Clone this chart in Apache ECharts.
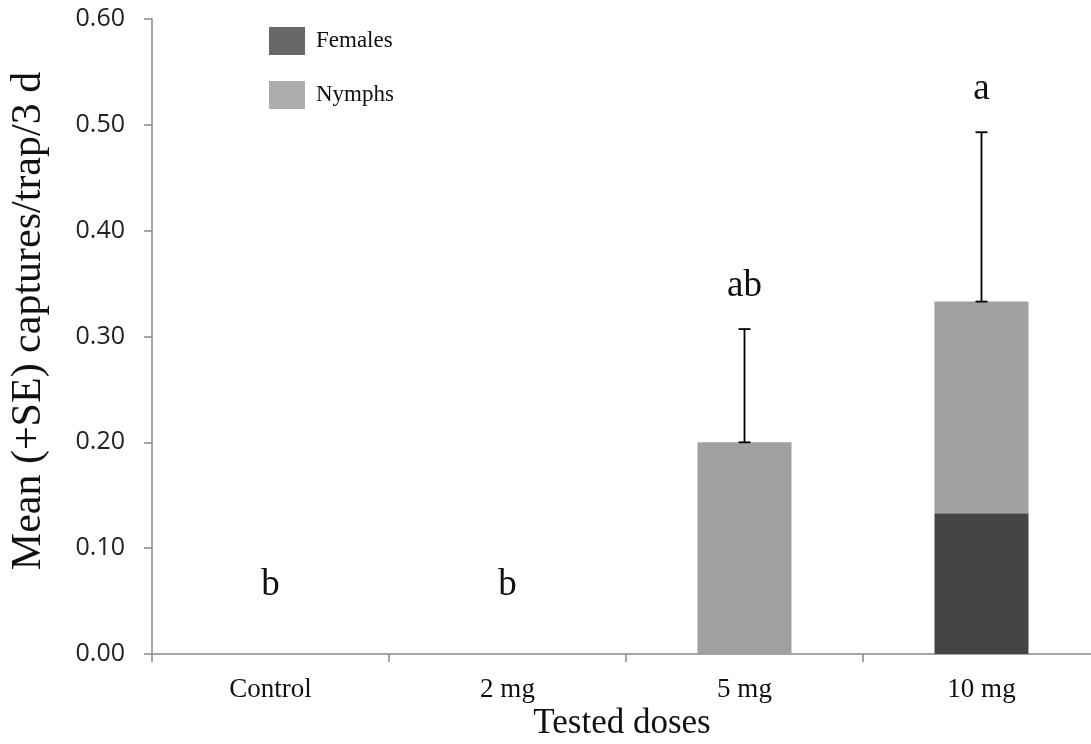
<!DOCTYPE html>
<html>
<head>
<meta charset="utf-8">
<title>Captures per trap by tested dose</title>
<script src="https://cdn.jsdelivr.net/npm/echarts@6/dist/echarts.min.js"></script>
<style>
  html, body { margin: 0; padding: 0; background: #fff; }
  #chart { width: 1091px; height: 744px; }
</style>
</head>
<body>
<div id="chart"></div>
<script>
// Doses tested and mean captures per trap over 3 days
const categories = ['Control', '2 mg', '5 mg', '10 mg'];
const females = [0, 0, 0, 0.133];
const nymphs = [0, 0, 0.2, 0.2];
const se = [0, 0, 0.107, 0.16];
const letters = ['b', 'b', 'ab', 'a'];
const yTicks = [0, 0.1, 0.2, 0.3, 0.4, 0.5, 0.6];

const serif = '"Liberation Serif", "Times New Roman", serif';
const totals = categories.map((c, i) => females[i] + nymphs[i]);

const chart = echarts.init(document.getElementById('chart'), null, { renderer: 'canvas' });

const option = {
  animation: false,
  backgroundColor: '#ffffff',
  // the category axis runs a little past the right edge of the canvas
  grid: {
    left: 152, top: 19, width: 948, height: 635,
    containLabel: false,
    outerBoundsMode: 'none'
  },
  legend: {
    orient: 'vertical',
    left: 264,
    top: 22,
    itemWidth: 36,
    itemHeight: 28,
    itemGap: 26,
    icon: 'rect',
    textStyle: { fontFamily: serif, fontSize: 23, color: '#111', padding: [0, 0, 0, 6] },
    data: [
      { name: 'Females', itemStyle: { color: '#686868' } },
      { name: 'Nymphs', itemStyle: { color: '#acacac' } }
    ]
  },
  xAxis: {
    type: 'category',
    data: categories,
    boundaryGap: true,
    axisLine: { show: true, lineStyle: { color: '#888', width: 1.5 } },
    axisTick: { show: true, length: 8, lineStyle: { color: '#888', width: 1.5 } },
    axisLabel: { fontFamily: serif, fontSize: 27, color: '#111', margin: 22 },
    splitLine: { show: false }
  },
  yAxis: {
    type: 'value',
    min: yTicks[0],
    max: yTicks[yTicks.length - 1],
    interval: 0.1,
    axisLine: { show: true, lineStyle: { color: '#888', width: 1.5 } },
    axisTick: { show: true, length: 8, lineStyle: { color: '#888', width: 1.5 } },
    axisLabel: {
      fontFamily: '"Open Sans", "Noto Sans", sans-serif',
      fontSize: 25,
      color: '#222',
      margin: 27,
      formatter: v => v.toFixed(2)
    },
    splitLine: { show: false }
  },
  graphic: [
    {
      type: 'text',
      x: 29,
      y: 321,
      rotation: Math.PI / 2,
      style: {
        text: 'Mean (+SE) captures/trap/3 d',
        font: '42px ' + serif,
        fill: '#111',
        textAlign: 'center',
        textVerticalAlign: 'middle'
      }
    },
    {
      type: 'text',
      x: 622,
      y: 724,
      style: {
        text: 'Tested doses',
        font: '35px ' + serif,
        fill: '#111',
        textAlign: 'center',
        textVerticalAlign: 'middle'
      }
    }
  ],
  series: [
    {
      name: 'Females',
      type: 'bar',
      stack: 'total',
      barWidth: 94,
      itemStyle: { color: '#444444' },
      data: females
    },
    {
      name: 'Nymphs',
      type: 'bar',
      stack: 'total',
      barWidth: 94,
      itemStyle: { color: '#a0a0a0' },
      data: nymphs
    },
    {
      // standard error whiskers and significance letters
      name: 'SE',
      type: 'custom',
      z: 10,
      silent: true,
      data: categories.map((c, i) => [i, totals[i], se[i]]),
      renderItem: function (params, api) {
        const i = api.value(0);
        const top = api.value(1);
        const err = api.value(2);
        const base = api.coord([i, top]);
        const tip = api.coord([i, top + err]);
        const children = [];
        if (err > 0) {
          const cap = 6;
          const ls = { stroke: '#000', lineWidth: 1.8 };
          children.push(
            { type: 'line', shape: { x1: base[0], y1: base[1], x2: tip[0], y2: tip[1] }, style: ls },
            { type: 'line', shape: { x1: tip[0] - cap, y1: tip[1], x2: tip[0] + cap, y2: tip[1] }, style: ls },
            { type: 'line', shape: { x1: base[0] - cap, y1: base[1], x2: base[0] + cap, y2: base[1] }, style: ls }
          );
        }
        const lift = err > 0 ? 24 : 50;
        children.push({
          type: 'text',
          x: tip[0],
          y: tip[1] - lift,
          style: {
            text: letters[params.dataIndex],
            font: '37px ' + serif,
            fill: '#111',
            textAlign: 'center',
            textVerticalAlign: 'bottom'
          }
        });
        return { type: 'group', children: children };
      }
    }
  ]
};

chart.setOption(option);
</script>
</body>
</html>
